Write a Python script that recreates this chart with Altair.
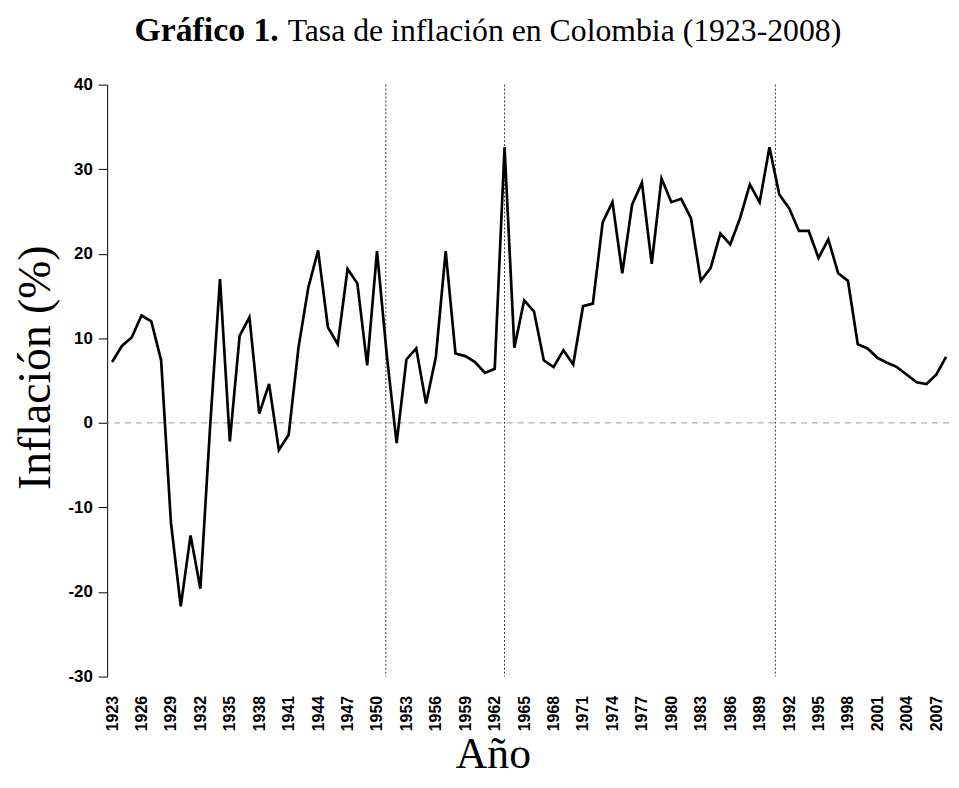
import altair as alt
import pandas as pd

# ---- data ----
years = list(range(1923, 2009))
inflation = [
    7.2, 9.1, 10.1, 12.7, 12.0, 7.4, -11.8, -21.7, -13.3, -19.6,   # 1923-1932
    -0.3, 17.0, -2.2, 10.3, 12.5, 1.1, 4.6, -3.2, -1.4, 8.9,       # 1933-1942
    16.0, 20.4, 11.3, 9.3, 18.2, 16.5, 6.8, 20.3, 8.0, -2.4,       # 1943-1952
    7.5, 8.8, 2.3, 7.8, 20.3, 8.2, 7.9, 7.2, 5.9, 6.4,             # 1953-1962
    32.6, 8.9, 14.5, 13.2, 7.4, 6.6, 8.6, 6.9, 13.8, 14.1,         # 1963-1972
    23.7, 26.1, 17.7, 25.8, 28.4, 18.8, 28.9, 26.1, 26.5, 24.2,    # 1973-1982
    16.8, 18.3, 22.4, 21.1, 24.2, 28.2, 26.1, 32.6, 27.0, 25.4,    # 1983-1992
    22.7, 22.7, 19.5, 21.7, 17.7, 16.8, 9.3, 8.8, 7.7, 7.1,        # 1993-2002
    6.6, 5.7, 4.8, 4.6, 5.7, 7.8,                                  # 2003-2008
]
break_years = [1950.9, 1963.0, 1990.6]
x_tick_years = list(range(1923, 2008, 3))
y_ticks = [-30, -20, -10, 0, 10, 20, 30, 40]

title_bold = "Gráfico 1."
title_rest = "Tasa de inflación en Colombia (1923-2008)"
x_title = "Año"
y_title = "Inflación (%)"

df = pd.DataFrame({"year": years, "inflation": inflation})
breaks_df = pd.DataFrame({"year": break_years})
zero_df = pd.DataFrame({"inflation": [0]})
one = pd.DataFrame({"k": [0]})

x_scale = alt.Scale(domain=[1922.5, 2008.3], nice=False, zero=False)
y_scale = alt.Scale(domain=[-30, 40], nice=False, zero=False)

x_axis = alt.Axis(
    values=x_tick_years, format="d", labelAngle=-90, domain=False, ticks=False,
    grid=False, labelPadding=19, labelFont="Liberation Sans", labelFontWeight="bold",
    labelFontSize=16, labelColor="black", title=x_title, titleFont="Liberation Serif",
    titleFontWeight="normal", titleFontSize=44, titleColor="black",
    titleX=389, titleY=92, titleAlign="center", titleBaseline="alphabetic",
    labelOverlap=False, labelFlush=False, labelBound=False,
)
y_axis = alt.Axis(
    values=y_ticks, grid=False, tickSize=9, labelPadding=6, domainColor="black",
    tickColor="black", labelFont="Liberation Sans", labelFontWeight="bold",
    labelFontSize=17, labelColor="black", labelExpr="'' + datum.value",
    title=y_title, titleFont="Liberation Serif",
    titleFontWeight="normal", titleFontSize=46, titleColor="black",
    titleX=-58, titleY=285, titleAngle=-90, titleAlign="center",
    titleBaseline="alphabetic", labelOverlap=False,
)

x_enc = alt.X("year:Q", scale=x_scale, axis=x_axis)
y_enc = alt.Y("inflation:Q", scale=y_scale, axis=y_axis)

line = alt.Chart(df).mark_line(color="black", strokeWidth=2.7).encode(x=x_enc, y=y_enc)

zero = alt.Chart(zero_df).mark_rule(color="#9a9a9a", strokeWidth=1, strokeDash=[6, 5]).encode(
    y=y_enc,
)

vlines = alt.Chart(breaks_df).mark_rule(color="#333333", strokeWidth=1, strokeDash=[2, 2]).encode(
    x=x_enc,
)

t1 = alt.Chart(one).mark_text(
    font="Liberation Serif", fontSize=34, fontWeight="bold", align="right",
    baseline="alphabetic", color="black",
).encode(x=alt.value(173), y=alt.value(-44), text=alt.value(title_bold))

t2 = alt.Chart(one).mark_text(
    font="Liberation Serif", fontSize=32, fontWeight="normal", align="left",
    baseline="alphabetic", color="black",
).encode(x=alt.value(182), y=alt.value(-44), text=alt.value(title_rest))

chart = alt.layer(zero, vlines, line, t1, t2).properties(
    width=849, height=597,
    autosize=alt.AutoSizeParams(type="none"),
    padding={"left": 100, "top": 74, "right": 2, "bottom": 101},
).configure_view(stroke=None).configure_axis(labelOverlap=False)

chart.save("out.html", embed_options={"renderer": "svg", "actions": False})
